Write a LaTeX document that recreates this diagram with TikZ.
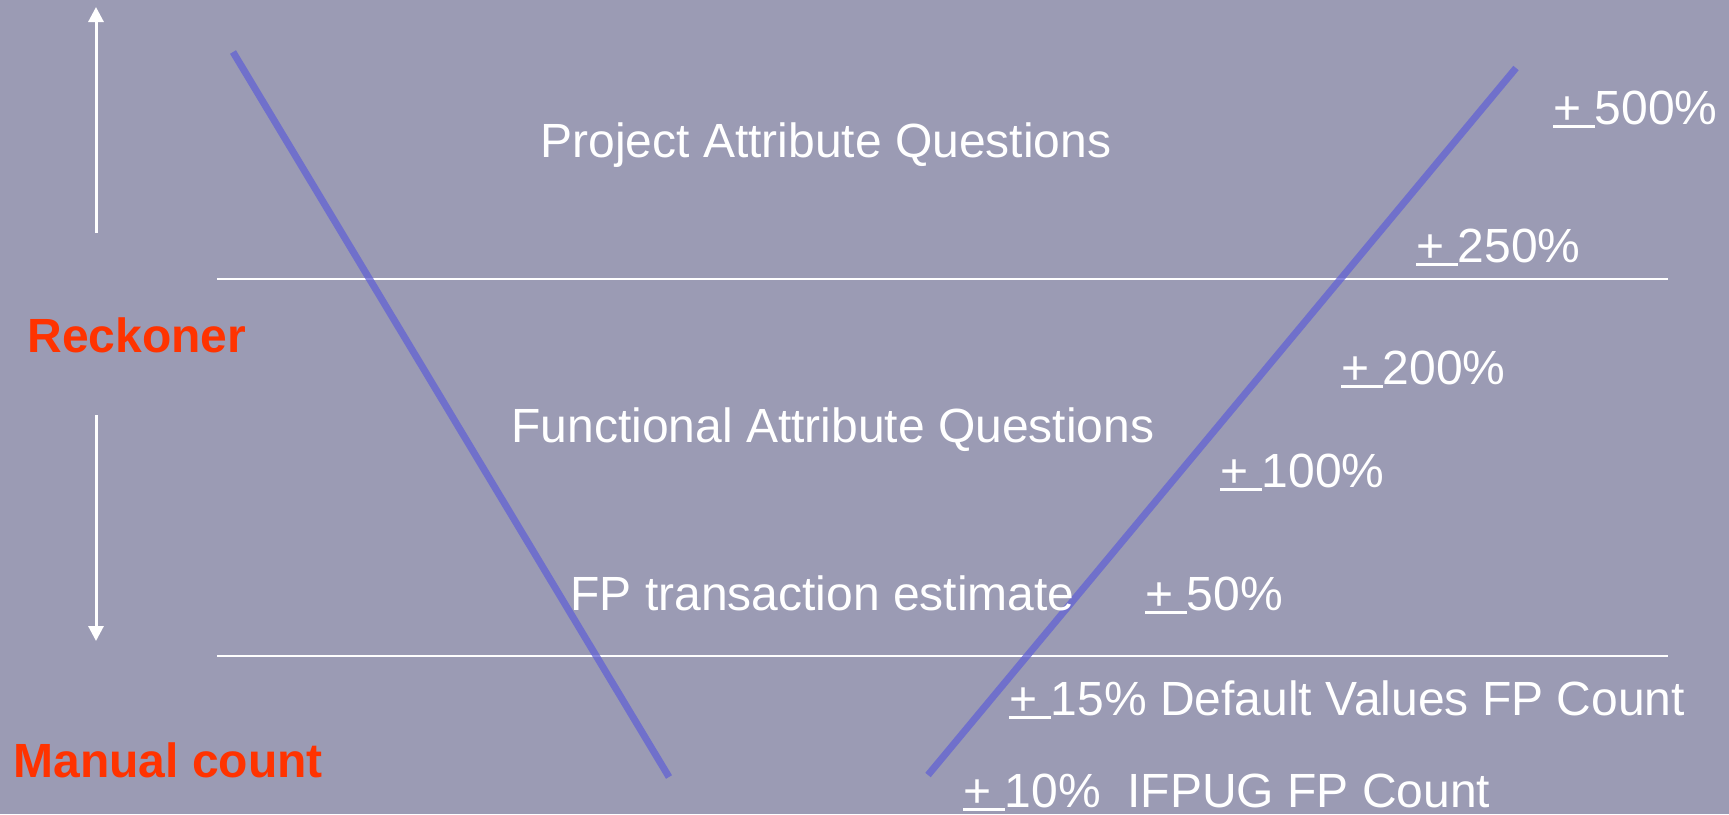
\documentclass[tikz,border=0pt]{standalone}
\usepackage{fontspec}
\setmainfont{Liberation Sans}
\usetikzlibrary{arrows.meta}
\definecolor{slidebg}{RGB}{155,155,180}
\definecolor{vline}{RGB}{98,98,212}
\definecolor{tagred}{RGB}{255,51,0}
% underlined plus sign, underline runs under the following space too
\newsavebox\pmbox
\newcommand\pmu{\sbox\pmbox{+\ }\rlap{\rule[-2pt]{\wd\pmbox}{1.4pt}}\usebox\pmbox}

\begin{document}
\begin{tikzpicture}[x=0.5pt,y=-0.5pt,
    lbl/.style={text=white,font=\fontsize{24}{28}\selectfont,inner sep=0pt,anchor=base west},
    tag/.style={text=tagred,font=\fontsize{24}{28}\selectfont\bfseries,inner sep=0pt,anchor=base west},
    sep/.style={white,line width=1pt},
    vee/.style={vline,opacity=0.75,line width=3.5pt},
    updown/.style={white,line width=1.5pt,-{Triangle[width=7.5pt,length=7.5pt]}}]
  \fill[slidebg] (0,0) rectangle (1729,814);
  \useasboundingbox (0,0) rectangle (1729,814);
  % end points
  \coordinate (upfoot) at (96,233);   \coordinate (uptip) at (96,7);
  \coordinate (dnfoot) at (96,415);   \coordinate (dntip) at (96,641);
  \coordinate (sepAw) at (217,279);   \coordinate (sepAe) at (1668,279);
  \coordinate (sepBw) at (217,656);   \coordinate (sepBe) at (1668,656);
  \coordinate (veeLt) at (233,52);    \coordinate (veeLb) at (669,777);
  \coordinate (veeRb) at (928,775);   \coordinate (veeRt) at (1516,68);
  % arrows on the left
  \draw[updown] (upfoot) -- (uptip);
  \draw[updown] (dnfoot) -- (dntip);
  % separators and the V
  \draw[sep] (sepAw) -- (sepAe);
  \draw[sep] (sepBw) -- (sepBe);
  \draw[vee] (veeLt) -- (veeLb);
  \draw[vee] (veeRb) -- (veeRt);
  % texts
  \node[tag] (reck) at (27,352) {Reckoner};
  \node[tag] (manual) at (13,777) {Manual count};
  \node[lbl] (projq) at (540,157) {Project Attribute Questions};
  \node[lbl] (funcq) at (511,442) {Functional Attribute Questions};
  \node[lbl] (fpest) at (570,610) {FP transaction estimate};
  \node[lbl] (p500) at (1553,124) {\pmu 500\%};
  \node[lbl] (p250) at (1416,262) {\pmu 250\%};
  \node[lbl] (p200) at (1341,384) {\pmu 200\%};
  \node[lbl] (p100) at (1220,487) {\pmu 100\%};
  \node[lbl] (p50) at (1145,610) {\pmu 50\%};
  \node[lbl] (p15) at (1009,715) {\pmu 15\% Default Values FP Count};
  \node[lbl] (p10) at (963,807) {\pmu 10\% \ IFPUG FP Count};
\end{tikzpicture}
\end{document}
